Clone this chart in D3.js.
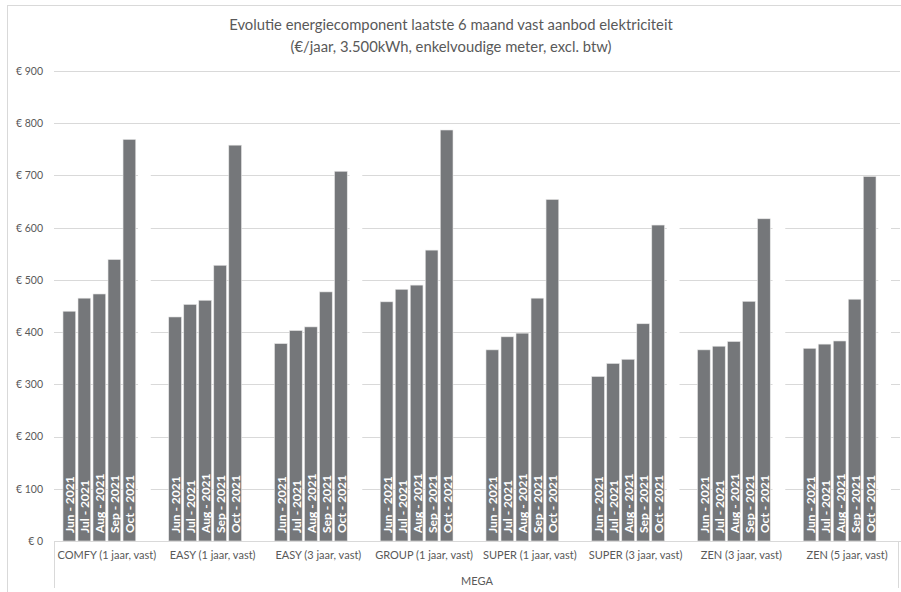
<!DOCTYPE html>
<html>
<head>
<meta charset="utf-8">
<script src="https://cdn.jsdelivr.net/npm/d3@7"></script>
<style>
  html, body { margin: 0; padding: 0; background: #fff; }
  svg { display: block; font-family: Lato, "Open Sans", sans-serif; }
</style>
</head>
<body>
<svg id="chart" width="901" height="592"></svg>
<script>
// ---- data ----
const titleLines = [
  "Evolutie energiecomponent laatste 6 maand vast aanbod elektriciteit",
  "(€/jaar, 3.500kWh, enkelvoudige meter, excl. btw)"
];
const parentCategory = "MEGA";
const categories = [
  "COMFY (1 jaar, vast)", "EASY (1 jaar, vast)", "EASY (3 jaar, vast)", "GROUP (1 jaar, vast)",
  "SUPER (1 jaar, vast)", "SUPER (3 jaar, vast)", "ZEN (3 jaar, vast)", "ZEN (5 jaar, vast)"
];
const seriesNames = ["Jun - 2021", "Jul - 2021", "Aug - 2021", "Sep - 2021", "Oct - 2021", ""];
const jun2021 = [440, 429, 378, 458, 366, 315, 366, 369];
const jul2021 = [465, 453, 403, 482, 391, 340, 373, 377];
const aug2021 = [473, 461, 410, 490, 398, 348, 382, 383];
const sep2021 = [539, 528, 477, 557, 465, 416, 459, 463];
const oct2021 = [769, 758, 708, 787, 654, 605, 617, 698];
const hiddenSeries = [750, 0, 750, 0, 0, 650, 650, 650]; // white (invisible) series, only cuts gridlines
const seriesValues = [jun2021, jul2021, aug2021, sep2021, oct2021, hiddenSeries];
const yTicks = [0, 100, 200, 300, 400, 500, 600, 700, 800, 900];

// ---- layout ----
const svg = d3.select("#chart");
const plotL = 54, plotR = 900, plotT = 71, plotB = 541;
const textColor = "#595959", gridColor = "#d9d9d9", barColor = "#75777a";

// outer chart border
svg.append("rect")
  .attr("x", 7.5).attr("y", 5.5).attr("width", 1000).attr("height", 1000)
  .attr("fill", "none").attr("stroke", gridColor);

// title
svg.append("g").selectAll("text").data(titleLines).join("text")
  .attr("x", 451).attr("y", (d, i) => 30 + i * 22)
  .attr("text-anchor", "middle")
  .attr("font-size", "14.8px").attr("fill", textColor)
  .text(d => d);

const x0 = d3.scaleBand().domain(categories).range([plotL, plotR]).paddingInner(0).paddingOuter(0);
const bw = x0.bandwidth();
const clusterW = bw * 0.83;
const x1 = d3.scaleBand().domain(d3.range(seriesNames.length))
  .range([(bw - clusterW) / 2, (bw + clusterW) / 2]).paddingInner(0.153).paddingOuter(0);
const y = d3.scaleLinear().domain([0, 900]).range([plotB, plotT]);

// y axis with gridlines
const yAxis = svg.append("g").attr("transform", `translate(${plotL},0)`)
  .call(d3.axisLeft(y).tickValues(yTicks).tickSize(-(plotR - plotL)).tickPadding(11)
    .tickFormat(d => "€ " + d));
yAxis.select(".domain").remove();
yAxis.selectAll(".tick line").attr("stroke", gridColor).attr("shape-rendering", "crispEdges");
yAxis.selectAll(".tick text").attr("fill", textColor).attr("font-size", "10.5px")
  .attr("font-family", "Lato, sans-serif");

// bars
const rows = [];
categories.forEach((c, ci) => {
  seriesValues.forEach((arr, si) => rows.push({ cat: c, si, name: seriesNames[si], v: arr[ci] }));
});
const gBars = svg.append("g");
gBars.selectAll("rect").data(rows).join("rect")
  .attr("x", d => x0(d.cat) + x1(d.si))
  .attr("y", d => y(d.v))
  .attr("width", x1.bandwidth())
  .attr("height", d => y(0) - y(d.v))
  .attr("fill", d => d.name === "" ? "#ffffff" : barColor)
  .attr("stroke", d => d.name === "" ? "none" : "#e6e6e6")
  .attr("stroke-width", 0.6);

// data labels (series names), rotated inside base
gBars.selectAll("text").data(rows.filter(d => d.name !== "")).join("text")
  .attr("transform", d => `translate(${x0(d.cat) + x1(d.si) + x1.bandwidth() / 2 + 0.5},${plotB - 8}) rotate(-90)`)
  .attr("text-anchor", "start")
  .attr("dominant-baseline", "central")
  .attr("fill", "#ffffff")
  .attr("font-size", "12px")
  .attr("font-weight", "bold")
  .text(d => d.name);

// category axis
const xAxis = svg.append("g").attr("transform", `translate(0,${plotB})`)
  .call(d3.axisBottom(x0).tickSize(0).tickSizeOuter(0).tickPadding(10));
xAxis.select(".domain").attr("stroke", gridColor).attr("shape-rendering", "crispEdges");
xAxis.selectAll(".tick text").attr("fill", textColor).attr("font-size", "11px")
  .attr("font-family", "Lato, sans-serif");

// category box edges
svg.append("g").selectAll("line").data([plotL + 0.5, plotR - 1.5]).join("line")
  .attr("x1", d => d).attr("x2", d => d)
  .attr("y1", plotB).attr("y2", plotB + 47)
  .attr("stroke", gridColor);

// parent category label
svg.append("text")
  .attr("x", (plotL + plotR) / 2).attr("y", plotB + 44)
  .attr("text-anchor", "middle").attr("fill", textColor).attr("font-size", "11px")
  .text(parentCategory);
</script>
</body>
</html>
